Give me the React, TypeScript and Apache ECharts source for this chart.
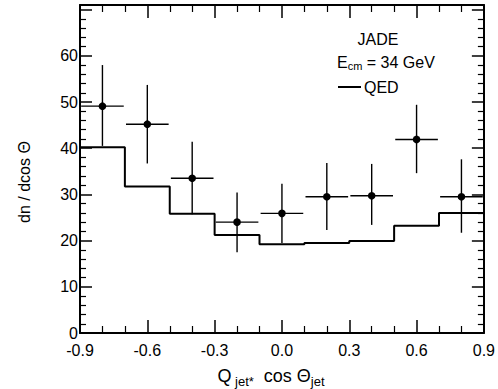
import React, { useEffect, useRef } from "react";
import * as echarts from "echarts";

// Data points (JADE)
const pointX = [-0.8, -0.6, -0.4, -0.2, 0.0, 0.2, 0.4, 0.6, 0.8];
const pointY = [49.1, 45.2, 33.5, 24.0, 25.9, 29.5, 29.7, 41.9, 29.5];
const pointHigh = [58.0, 53.7, 41.4, 30.4, 32.3, 36.8, 36.6, 49.4, 37.6];
const pointLow = [40.5, 36.7, 25.7, 17.5, 19.5, 22.3, 23.4, 34.6, 21.7];
const pointXErr = [0.095, 0.095, 0.095, 0.095, 0.095, 0.095, 0.095, 0.095, 0.095];

// QED histogram
const binEdges = [-0.9, -0.7, -0.5, -0.3, -0.1, 0.1, 0.3, 0.5, 0.7, 0.9];
const qedValues = [40.2, 31.7, 25.8, 21.2, 19.2, 19.5, 19.9, 23.2, 26.0];

const FONT = "Liberation Sans";

export default function App() {
  const ref = useRef<HTMLDivElement>(null);
  useEffect(() => {
    if (!ref.current) return;
    const chart = echarts.init(ref.current, null, { renderer: "svg" });

    const histData: number[][] = [];
    qedValues.forEach((v, i) => {
      histData.push([binEdges[i], v]);
      histData.push([binEdges[i + 1], v]);
    });

    const errData = pointX.map((x, i) => [x, pointY[i], pointXErr[i], pointLow[i], pointHigh[i]]);

    const xCommon = {
      type: "value" as const,
      min: -0.9,
      max: 0.9,
      interval: 0.3,
      axisLine: { show: true, onZero: false, lineStyle: { color: "#000", width: 2 } },
      axisTick: { show: true, inside: true, length: 13, lineStyle: { color: "#000", width: 1.5 } },
      minorTick: { show: true, splitNumber: 3, length: 7, lineStyle: { color: "#000", width: 1.2 } },
      splitLine: { show: false },
      minorSplitLine: { show: false },
    };
    const yCommon = {
      type: "value" as const,
      min: 0,
      max: 71,
      interval: 10,
      axisLine: { show: true, onZero: false, lineStyle: { color: "#000", width: 2 } },
      axisTick: { show: true, inside: true, length: 12, lineStyle: { color: "#000", width: 1.5 } },
      minorTick: { show: true, splitNumber: 5, length: 6, lineStyle: { color: "#000", width: 1.2 } },
      splitLine: { show: false },
      minorSplitLine: { show: false },
    };

    chart.setOption({
      animation: false,
      backgroundColor: "#fff",
      grid: { left: 80, right: 8, top: 5, bottom: 56 },
      xAxis: [
        {
          ...xCommon,
          position: "bottom",
          axisLabel: {
            color: "#000",
            fontFamily: FONT,
            fontSize: 16,
            margin: 9,
            showMinLabel: true,
            showMaxLabel: true,
            formatter: (v: number) => {
              const r = Math.round(v * 10) / 10;
              return (r === 0 ? 0 : r).toFixed(1);
            },
          },
        },
        { ...xCommon, position: "top", axisLabel: { show: false } },
      ],
      yAxis: [
        {
          ...yCommon,
          position: "left",
          axisLabel: {
            color: "#000",
            fontFamily: FONT,
            fontSize: 16,
            margin: 2,
            formatter: (v: number) => (v <= 60 ? String(Math.round(v)) : ""),
          },
        },
        { ...yCommon, position: "right", axisLabel: { show: false } },
      ],
      graphic: [
        {
          type: "text",
          x: 24,
          y: 182,
          rotation: Math.PI / 2,
          style: {
            text: "dn / dcos Θ",
            font: `16px ${FONT}`,
            fill: "#000",
            align: "center",
            verticalAlign: "middle",
          },
        },
        {
          type: "text",
          x: 271,
          y: 376,
          style: {
            text: "{m|Q}{s| jet*}{m|  cos Θ}{s|jet}",
            fill: "#000",
            align: "center",
            verticalAlign: "middle",
            rich: {
              m: { font: `18px ${FONT}`, fill: "#000", verticalAlign: "middle" },
              s: { font: `13px ${FONT}`, fill: "#000", padding: [10, 0, 0, 0], verticalAlign: "middle" },
            },
          },
        },
        {
          type: "text",
          x: 378,
          y: 39,
          style: {
            text: "JADE",
            font: `16px ${FONT}`,
            fill: "#000",
            align: "center",
            verticalAlign: "middle",
          },
        },
        {
          type: "text",
          x: 337,
          y: 62,
          style: {
            text: "{m|E}{s|cm}{m| = 34 GeV}",
            fill: "#000",
            align: "left",
            verticalAlign: "middle",
            rich: {
              m: { font: `16px ${FONT}`, fill: "#000", verticalAlign: "middle" },
              s: { font: `11px ${FONT}`, fill: "#000", padding: [8, 0, 0, 0], verticalAlign: "middle" },
            },
          },
        },
        {
          type: "line",
          shape: { x1: 338, y1: 87, x2: 361, y2: 87 },
          style: { stroke: "#000", lineWidth: 2 },
        },
        {
          type: "text",
          x: 364,
          y: 87,
          style: {
            text: "QED",
            font: `16px ${FONT}`,
            fill: "#000",
            align: "left",
            verticalAlign: "middle",
          },
        },
      ],
      series: [
        {
          type: "line",
          name: "QED",
          data: histData,
          showSymbol: false,
          symbol: "none",
          lineStyle: { color: "#000", width: 2 },
          z: 2,
        },
        {
          type: "custom",
          name: "JADE",
          data: errData,
          z: 3,
          renderItem: (params: any, api: any) => {
            const x = api.value(0);
            const y = api.value(1);
            const xe = api.value(2);
            const lo = api.value(3);
            const hi = api.value(4);
            const c = api.coord([x, y]);
            const l = api.coord([x - xe, y]);
            const r = api.coord([x + xe, y]);
            const t = api.coord([x, hi]);
            const b = api.coord([x, lo]);
            const st = { stroke: "#000", lineWidth: 1.4 };
            return {
              type: "group",
              children: [
                { type: "line", shape: { x1: l[0], y1: l[1], x2: r[0], y2: r[1] }, style: st },
                { type: "line", shape: { x1: t[0], y1: t[1], x2: b[0], y2: b[1] }, style: st },
                { type: "circle", shape: { cx: c[0], cy: c[1], r: 3.8 }, style: { fill: "#000" } },
              ],
            };
          },
        },
      ],
    });
    return () => chart.dispose();
  }, []);
  return <div ref={ref} style={{ width: 498, height: 389, position: "absolute", left: 0, top: 0 }} />;
}
